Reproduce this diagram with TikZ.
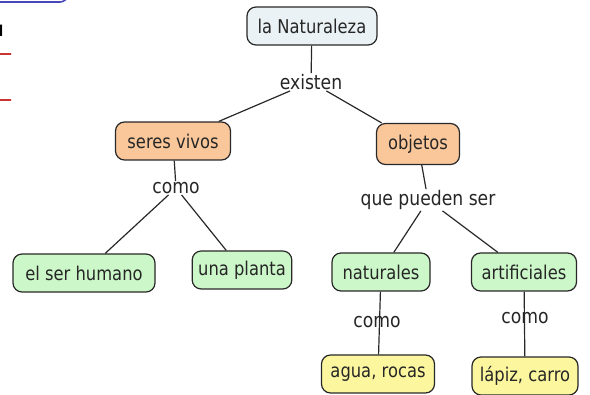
\documentclass[tikz,border=0pt]{standalone}
\usepackage{fontspec}
\setmainfont{DejaVu Sans}[FakeStretch=0.86]

\definecolor{linegray}{RGB}{40,40,40}
\definecolor{topfill}{RGB}{234,242,245}
\definecolor{orangefill}{RGB}{250,199,154}
\definecolor{greenfill}{RGB}{204,247,200}
\definecolor{yellowfill}{RGB}{252,247,158}

\begin{document}
\begin{tikzpicture}[x=1pt,y=-1pt,
	concept/.style={draw=linegray,line width=1.2pt,rounded corners=9pt,minimum height=38pt,inner xsep=6pt,text=black!85,font=\fontsize{19}{22}\selectfont},
	link/.style={inner sep=1pt,text=black!85,font=\fontsize{20}{23}\selectfont},
	conn/.style={draw=linegray,line width=1.2pt}]
			\useasboundingbox (0,0) rectangle (590,395);
			
			% pieces of another picture, cut off at the left edge
			\begin{scope}
				\clip (0,0) rectangle (590,395);
				\draw [draw=blue!45!gray,line width=1.6pt,rounded corners=8pt] (-40,-40) rectangle (68,2);
			\end{scope}
			\begin{scope}
				\clip (0,5) rectangle (11,395);
				\node [anchor=west,inner sep=0pt,font=\bfseries\fontsize{15}{18}\selectfont] (A0) at (-10,31) {al};
				\draw [draw=red!60!gray,line width=1.2pt] (-40,54) rectangle (30,100);
			\end{scope}
			
			\node [concept,fill=topfill,minimum width=130pt] (N0) at (312,26) {la Naturaleza};
			\node [concept,fill=orangefill,minimum width=115pt] (N1) at (173,141) {seres vivos};
			\node [concept,fill=orangefill,minimum width=83pt,minimum height=41pt] (N2) at (418,144) {objetos};
			\node [concept,fill=greenfill,minimum width=142pt] (N3) at (84,273) {el ser humano};
			\node [concept,fill=greenfill,minimum width=97pt] (N4) at (242,270) {una planta};
			\node [concept,fill=greenfill,minimum width=98pt] (N5) at (381,272) {naturales};
			\node [concept,fill=greenfill,minimum width=105pt] (N6) at (524,272) {artificiales};
			\node [concept,fill=yellowfill,minimum width=113pt] (N7) at (378,374) {agua, rocas};
			\node [concept,fill=yellowfill,minimum width=106pt] (N8) at (525,376) {lápiz, carro};
			
			\node [link] (L1) at (311,82) {existen};
			\node [link] (L2) at (176,188) {como};
			\node [link] (L3) at (428,200) {que pueden ser};
			
			\draw [conn] (N0) -- (L1);
			\draw [conn] (L1) -- (N1);
			\draw [conn] (L1) -- (N2);
			\draw [conn] (N1) -- (L2);
			\draw [conn] (L2) -- (N3);
			\draw [conn] (L2) -- (N4);
			\draw [conn] (N2) -- (L3);
			\draw [conn] (L3) -- (N5);
			\draw [conn] (L3) -- (N6);
			\draw [conn] (N5) -- (N7);
			\draw [conn] (N6) -- (N8);
			
			\node [link] (L4) at (377,322) {como};
			\node [link] (L5) at (525,318) {como};
		\end{tikzpicture}
\end{document}
